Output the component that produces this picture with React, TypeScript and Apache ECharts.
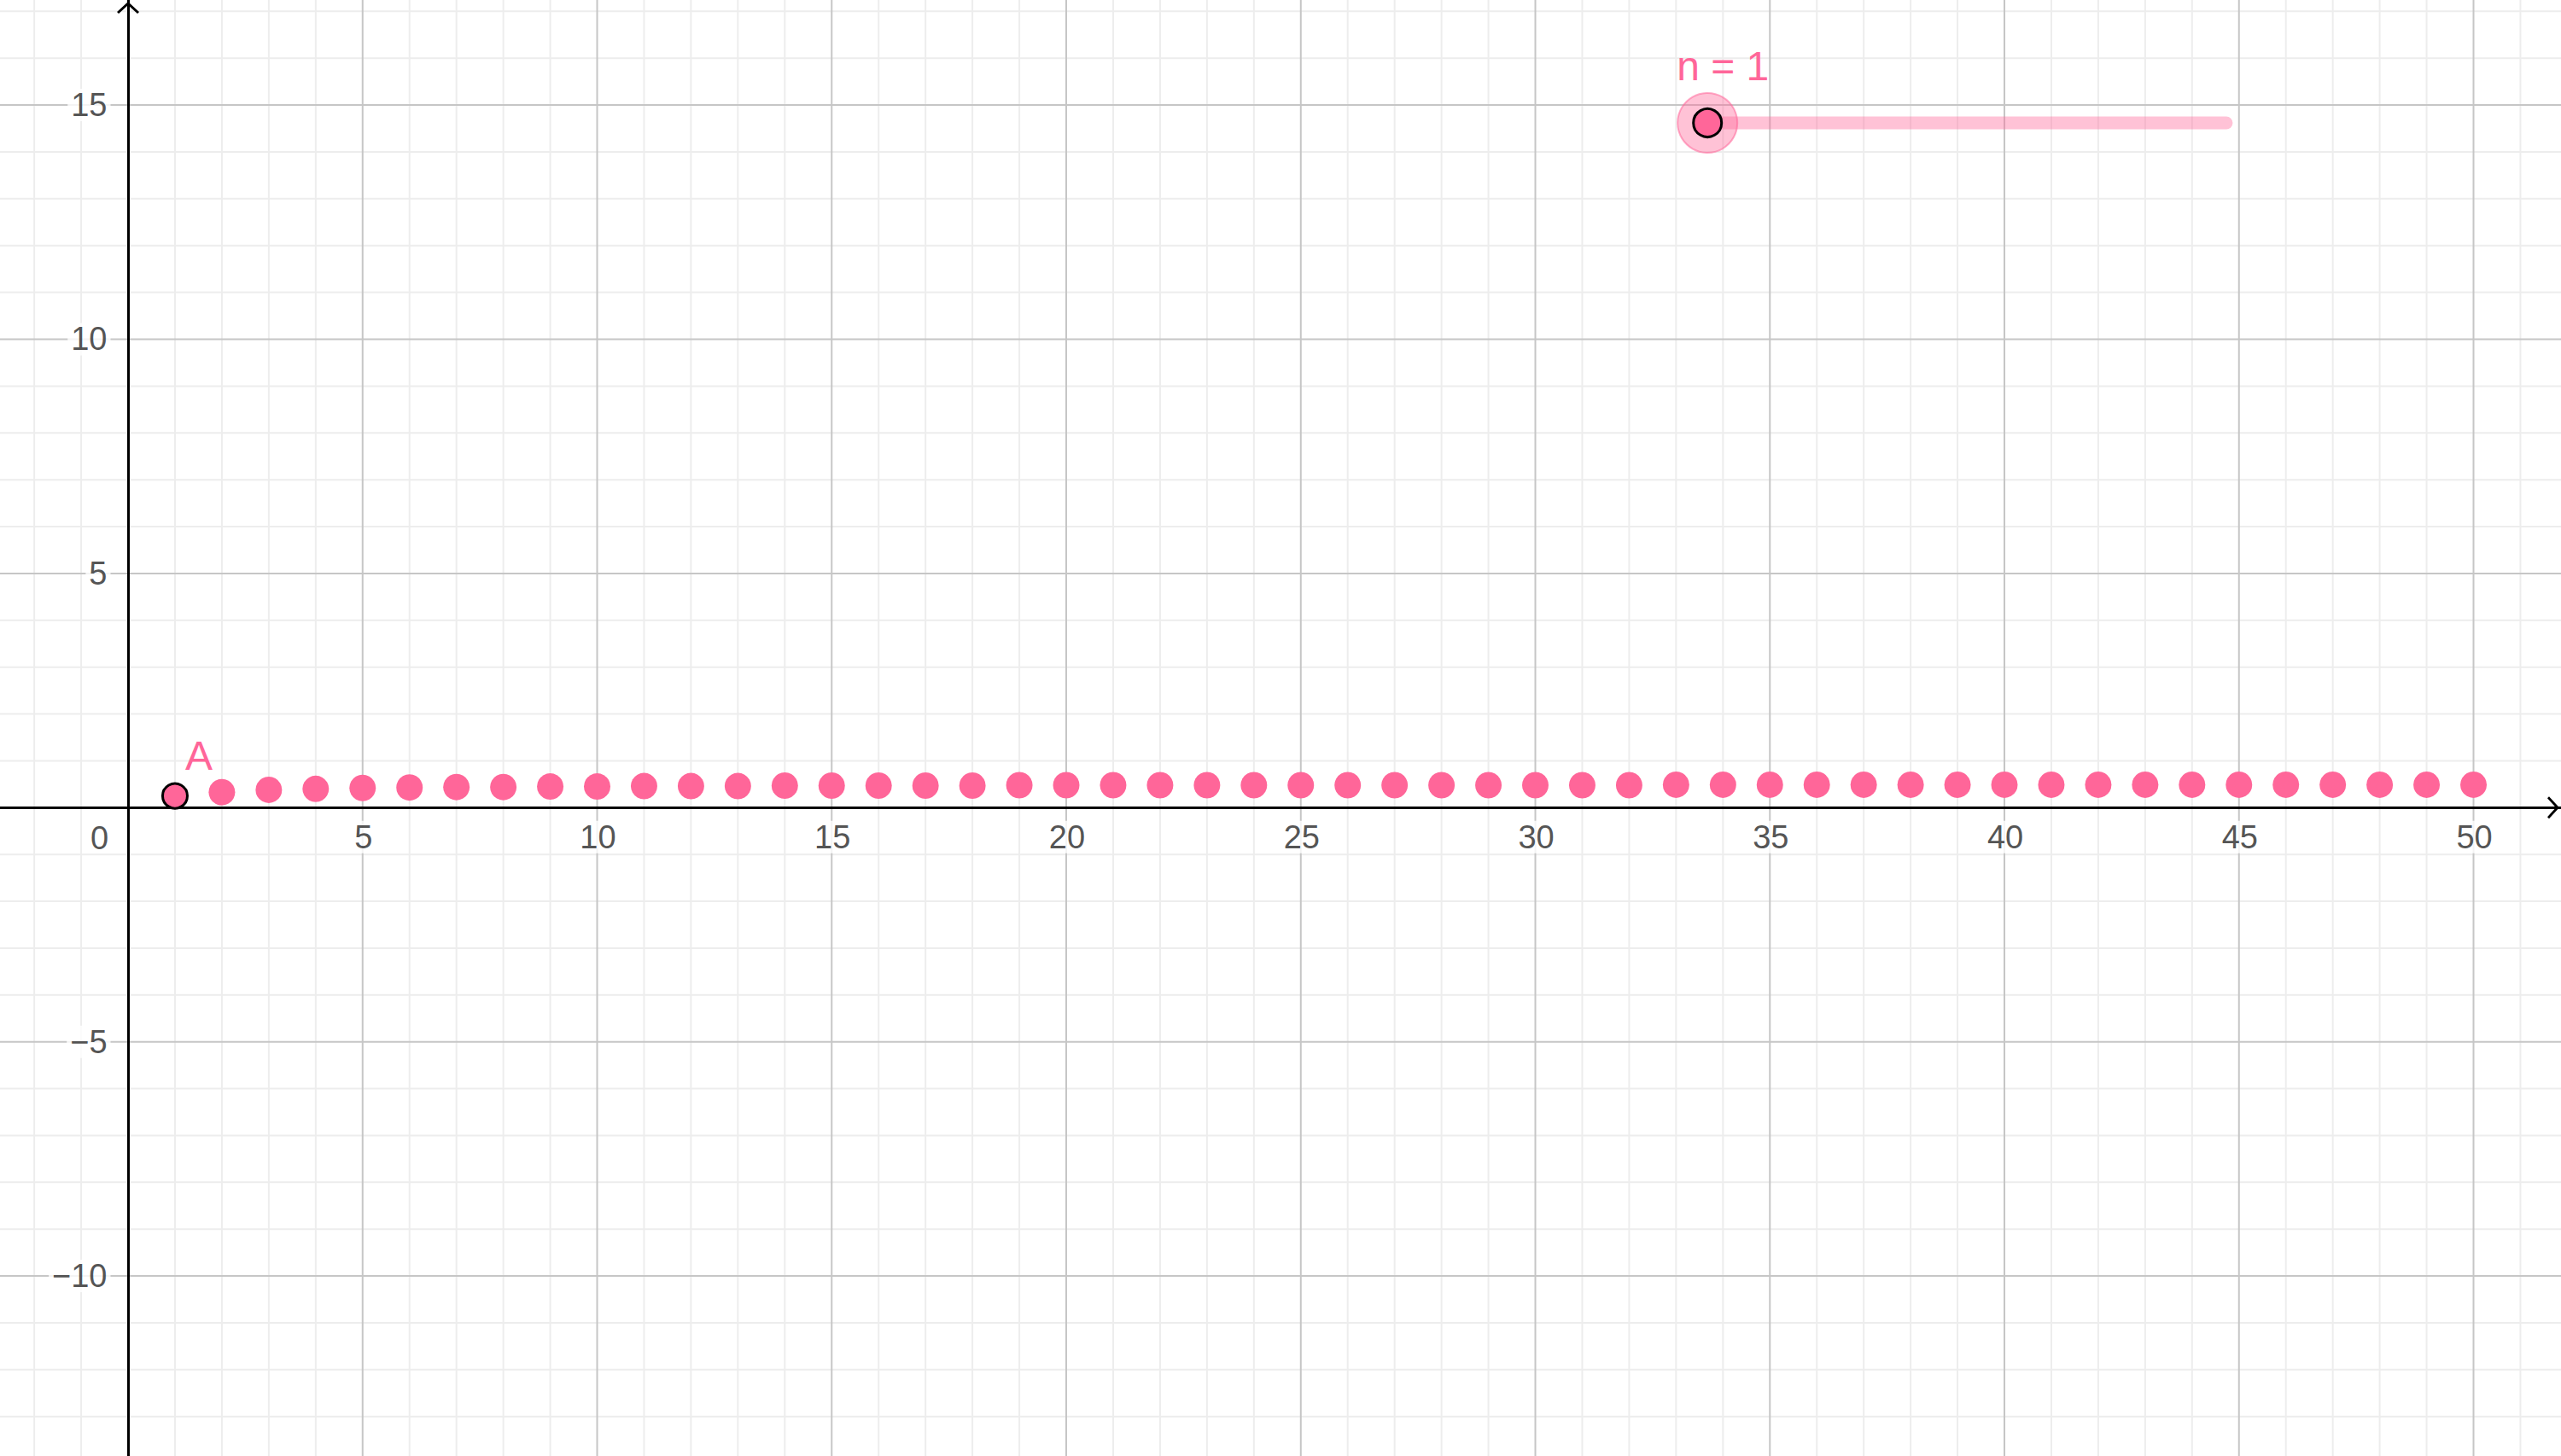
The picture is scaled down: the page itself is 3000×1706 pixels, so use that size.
import React, { useEffect, useRef } from "react";
import * as echarts from "echarts";

// ---- view window (math coordinates) ----
const X_MIN = -2.73;
const X_MAX = 51.865;
const Y_MIN = -13.843;
const Y_MAX = 17.243;

// ---- tick labels ----
const xTickLabels = [5, 10, 15, 20, 25, 30, 35, 40, 45, 50];
const yTickLabels = [-10, -5, 5, 10, 15];
const originLabel = "0";

// ---- sequence data: n and a(n) ----
const seqN = [
  1, 2, 3, 4, 5, 6, 7, 8, 9, 10, 11, 12, 13, 14, 15, 16, 17, 18, 19, 20, 21, 22, 23, 24, 25,
  26, 27, 28, 29, 30, 31, 32, 33, 34, 35, 36, 37, 38, 39, 40, 41, 42, 43, 44, 45, 46, 47, 48, 49, 50,
];
const seqValues = [
  0.25, 0.33, 0.38, 0.4, 0.42, 0.43, 0.44, 0.44, 0.45, 0.45, 0.46, 0.46, 0.46, 0.47, 0.47, 0.47,
  0.47, 0.47, 0.48, 0.48, 0.48, 0.48, 0.48, 0.48, 0.48, 0.48, 0.48, 0.48, 0.48, 0.48, 0.48, 0.48,
  0.49, 0.49, 0.49, 0.49, 0.49, 0.49, 0.49, 0.49, 0.49, 0.49, 0.49, 0.49, 0.49, 0.49, 0.49, 0.49,
  0.49, 0.49,
];

// ---- point A (current n) ----
const pointA = [1, 0.25];
const pointALabel = "A";

// ---- slider n ----
const sliderLabel = "n = 1";
const sliderStart = [33.67, 14.62];
const sliderEnd = [44.73, 14.62];

const PINK = "#ff6699";
const FONT = "'Liberation Sans', Arial, sans-serif";
const LABEL_COLOR = "#262626";

function buildGrid() {
  const minor: number[][] = [];
  const major: number[][] = [];
  for (let v = Math.ceil(X_MIN); v <= Math.floor(X_MAX); v++) {
    if (v === 0) continue;
    (v % 5 === 0 ? major : minor).push([v, 0, v % 5 === 0 ? 1 : 0]);
  }
  for (let v = Math.ceil(Y_MIN); v <= Math.floor(Y_MAX); v++) {
    if (v === 0) continue;
    (v % 5 === 0 ? major : minor).push([v, 1, v % 5 === 0 ? 1 : 0]);
  }
  return minor.concat(major);
}

const fmt = (v: number) => (v < 0 ? "\u2212" + Math.abs(v) : String(v));

export default function App() {
  const ref = useRef<HTMLDivElement>(null);

  useEffect(() => {
    if (!ref.current) return;
    const chart = echarts.init(ref.current, null, { renderer: "svg" });

    const arrow = "path://M13,0 L26,12 L24,14 L13,4 L2,14 L0,12 Z";

    const axisCommon = {
      type: "value",
      z: 3,
      axisLine: {
        onZero: true,
        lineStyle: { color: "#000000", width: 3 },
        symbol: ["none", arrow],
        symbolSize: [26, 14],
        symbolOffset: [0, -9],
      },
      axisTick: { show: false },
      splitLine: { show: false },
      axisLabel: { show: false },
    };

    const tickLabelStyle = {
      fontSize: 38,
      fontFamily: FONT,
      color: LABEL_COLOR,
      backgroundColor: "#ffffff",
      padding: [0, 4],
    };

    const option: any = {
      animation: false,
      backgroundColor: "#ffffff",
      grid: { left: 0, right: 0, top: 0, bottom: 0, containLabel: false, outerBoundsMode: "none" },
      xAxis: { ...axisCommon, min: X_MIN, max: X_MAX },
      yAxis: { ...axisCommon, min: Y_MIN, max: Y_MAX },
      series: [
        {
          name: "grid",
          type: "custom",
          z: 1,
          silent: true,
          data: buildGrid(),
          renderItem: (_p: any, api: any) => {
            const v = api.value(0);
            const o = api.value(1);
            const m = api.value(2);
            const a = o === 0 ? api.coord([v, Y_MIN]) : api.coord([X_MIN, v]);
            const b = o === 0 ? api.coord([v, Y_MAX]) : api.coord([X_MAX, v]);
            return {
              type: "line",
              shape: { x1: a[0], y1: a[1], x2: b[0], y2: b[1] },
              style: { stroke: m ? "#c6c6c6" : "#ededed", lineWidth: 2 },
            };
          },
        },
        {
          name: "xTicks",
          type: "scatter",
          z: 4,
          silent: true,
          data: xTickLabels.map((v) => [v, 0]),
          symbolSize: 1,
          itemStyle: { color: "transparent" },
          label: {
            show: true,
            formatter: (p: any) => fmt(p.value[0]),
            position: [1.5, 35],
            align: "center",
            verticalAlign: "middle",
            ...tickLabelStyle,
          },
        },
        {
          name: "yTicks",
          type: "scatter",
          z: 4,
          silent: true,
          data: yTickLabels.map((v) => [0, v]),
          symbolSize: 1,
          itemStyle: { color: "transparent" },
          label: {
            show: true,
            formatter: (p: any) => fmt(p.value[1]),
            position: [-20, 0.5],
            align: "right",
            verticalAlign: "middle",
            ...tickLabelStyle,
          },
        },
        {
          name: "origin",
          type: "scatter",
          z: 4,
          silent: true,
          data: [[0, 0]],
          symbolSize: 1,
          itemStyle: { color: "transparent" },
          label: {
            show: true,
            formatter: originLabel,
            position: [-33, 36],
            align: "center",
            verticalAlign: "middle",
            fontSize: 38,
            fontFamily: FONT,
            color: LABEL_COLOR,
          },
        },
        {
          name: "sequence",
          type: "scatter",
          z: 5,
          data: seqN.map((n, i) => [n, seqValues[i]]),
          symbolSize: 31,
          itemStyle: { color: PINK, opacity: 1 },
        },
        {
          name: "A",
          type: "scatter",
          z: 6,
          data: [pointA],
          symbolSize: 29,
          itemStyle: { color: PINK, borderColor: "#000000", borderWidth: 3, opacity: 1 },
          label: {
            show: true,
            formatter: pointALabel,
            position: [44, -31],
            align: "center",
            verticalAlign: "middle",
            fontSize: 48,
            fontFamily: FONT,
            color: PINK,
          },
        },
        {
          name: "sliderTrack",
          type: "line",
          z: 6,
          data: [sliderStart, sliderEnd],
          symbol: "none",
          lineStyle: { width: 15, color: "rgba(255,102,153,0.4)", cap: "round" },
        },
        {
          name: "sliderHalo",
          type: "scatter",
          z: 7,
          data: [sliderStart],
          symbolSize: 70,
          itemStyle: {
            color: "rgba(255,102,153,0.4)",
            borderColor: "rgba(255,102,153,0.55)",
            borderWidth: 2,
            opacity: 1,
          },
        },
        {
          name: "sliderPoint",
          type: "scatter",
          z: 8,
          data: [sliderStart],
          symbolSize: 33,
          itemStyle: { color: PINK, borderColor: "#000000", borderWidth: 3, opacity: 1 },
          label: {
            show: true,
            formatter: sliderLabel,
            position: [36, -48],
            align: "center",
            verticalAlign: "middle",
            fontSize: 48,
            fontFamily: FONT,
            color: PINK,
          },
        },
      ],
    };

    chart.setOption(option);
    return () => chart.dispose();
  }, []);

  return (
    <div
      ref={ref}
      style={{ position: "fixed", left: 0, top: 0, width: 3000, height: 1706, background: "#fff" }}
    />
  );
}
